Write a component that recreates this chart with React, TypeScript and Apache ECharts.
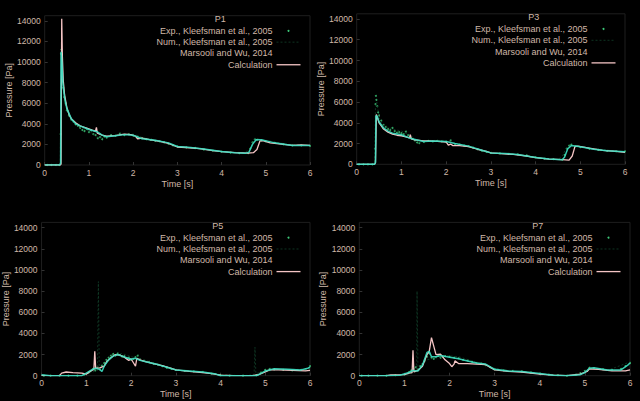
import React, { useEffect, useRef } from "react";
import * as echarts from "echarts";

const PANEL_TITLES = ["P1", "P3", "P5", "P7"];
const SERIES_NAMES = [
  "Exp., Kleefsman et al., 2005",
  "Num., Kleefsman et al., 2005",
  "Marsooli and Wu, 2014",
  "Calculation",
];
const X_TICKS = [0, 1, 2, 3, 4, 5, 6];

// ---- P1 ----
const EXP_P1 = [[0.05,0],[0.15,0],[0.25,0],[0.33,0],[0.36,3000],[0.37,10800],[0.38,11200],[0.39,9500],[0.4,8200],[0.42,7500],[0.44,6600],[0.47,6000],[0.5,5300],[0.55,4800],[0.6,4400],[0.65,4200],[0.7,3950],[0.75,3800],[0.8,3600],[0.85,3400],[0.9,3300],[0.95,3500],[1.0,3200],[1.05,3350],[1.1,3000],[1.15,2900],[1.2,2600],[1.25,2700],[1.3,2500],[1.35,2750],[1.4,2650],[1.5,2900],[1.6,2850],[1.7,3050],[1.8,2900],[1.9,3000],[2.0,2850],[2.1,2750],[2.2,2600],[2.3,2500],[2.4,2450],[2.5,2350],[2.6,2300],[2.7,2200],[2.8,2050],[2.9,1900],[3.0,1800],[3.2,1700],[3.4,1650],[3.6,1500],[3.8,1400],[4.0,1300],[4.2,1200],[4.4,1150],[4.6,1150],[4.65,1600],[4.7,2200],[4.75,2500],[4.8,2450],[4.9,2400],[5.0,2300],[5.2,2150],[5.4,2000],[5.6,1900],[5.8,1900],[6.0,1850]];
const NUM_P1 = [[0,0],[0.35,0],[0.37,9000],[0.4,8500],[0.45,6000],[0.6,4300],[0.8,3700],[1.0,3300],[1.2,2700],[1.4,2700],[1.7,3000],[2.0,3000],[2.2,2700],[2.6,2300],[3.0,1800],[3.5,1600],[4.0,1300],[4.5,1200],[4.65,1500],[4.75,2600],[5.0,2400],[5.5,2000],[6,1900]];
const MARS_P1 = [[0,0],[0.34,0],[0.36,200],[0.37,11000],[0.39,10000],[0.41,8000],[0.45,6500],[0.5,5500],[0.6,4500],[0.7,4000],[0.8,3800],[1.0,3450],[1.2,3200],[1.3,2900],[1.4,2750],[1.6,2850],[1.8,2950],[2.0,2900],[2.2,2550],[2.5,2400],[2.8,2150],[3.0,1800],[3.3,1700],[3.6,1550],[4.0,1300],[4.3,1200],[4.55,1150],[4.62,1250],[4.7,2000],[4.78,2450],[4.9,2450],[5.2,2150],[5.6,1900],[6,1900]];
const CALC_P1 = [[0,0],[0.35,0],[0.37,100],[0.385,14200],[0.4,10500],[0.42,8200],[0.45,6800],[0.5,5600],[0.55,4900],[0.6,4500],[0.7,4100],[0.8,3800],[0.9,3650],[1.0,3500],[1.1,3350],[1.15,3300],[1.17,3650],[1.19,3100],[1.3,2900],[1.4,2800],[1.6,2850],[1.8,3000],[1.95,2950],[2.05,2800],[2.1,2550],[2.2,2600],[2.4,2450],[2.6,2300],[2.8,2100],[3.0,1750],[3.2,1700],[3.5,1600],[3.8,1400],[4.0,1300],[4.3,1200],[4.6,1150],[4.72,1200],[4.8,1500],[4.87,2350],[4.95,2350],[5.1,2150],[5.3,2050],[5.6,1900],[5.8,1950],[6,1900]];

// ---- P3 ----
const EXP_P3 = [[0.05,0],[0.15,0],[0.25,0],[0.35,0],[0.41,1500],[0.42,5800],[0.43,6600],[0.44,6200],[0.46,5600],[0.48,5000],[0.5,4700],[0.55,4200],[0.6,3800],[0.65,3600],[0.7,3400],[0.75,3300],[0.8,3500],[0.85,3200],[0.9,3050],[0.95,3100],[1.0,3000],[1.05,2900],[1.1,3150],[1.15,2800],[1.2,2600],[1.25,2450],[1.3,2300],[1.35,2100],[1.4,2050],[1.5,2150],[1.6,2250],[1.7,2200],[1.8,2250],[1.9,2200],[2.0,2150],[2.1,2300],[2.2,1950],[2.3,1900],[2.4,1800],[2.5,1750],[2.6,1600],[2.7,1450],[2.8,1300],[2.9,1200],[3.0,1100],[3.2,1050],[3.4,1000],[3.6,950],[3.8,850],[4.0,700],[4.2,550],[4.4,500],[4.6,450],[4.65,900],[4.7,1500],[4.75,1800],[4.8,1900],[4.9,1750],[5.0,1650],[5.2,1500],[5.4,1400],[5.6,1300],[5.8,1250],[6.0,1250]];
const NUM_P3 = [[0,0],[0.4,0],[0.42,5500],[0.45,6000],[0.5,4500],[0.6,3700],[0.8,3400],[1.0,3200],[1.2,2800],[1.4,2100],[1.6,2300],[2.0,2300],[2.1,2100],[2.5,1700],[3.0,1100],[3.5,1000],[4.0,700],[4.5,450],[4.6,800],[4.7,1700],[4.9,1800],[5.3,1500],[6,1200]];
const MARS_P3 = [[0,0],[0.4,0],[0.42,200],[0.43,4700],[0.46,4600],[0.5,4100],[0.6,3500],[0.7,3200],[0.8,3000],[1.0,2850],[1.2,2500],[1.35,2350],[1.5,2200],[1.7,2250],[2.0,2200],[2.2,2000],[2.5,1750],[2.8,1350],[3.0,1100],[3.3,1050],[3.6,950],[4.0,650],[4.3,500],[4.6,450],[4.65,700],[4.72,1500],[4.8,1800],[5.0,1700],[5.3,1450],[5.6,1300],[6,1200]];
const CALC_P3 = [[0,0],[0.4,0],[0.42,150],[0.44,4800],[0.47,4400],[0.5,4000],[0.55,3700],[0.6,3400],[0.7,3100],[0.8,2900],[0.9,2800],[1.0,2750],[1.1,2650],[1.18,2550],[1.2,2850],[1.22,2450],[1.3,2350],[1.4,2300],[1.5,2250],[1.6,2250],[1.8,2200],[2.0,2150],[2.05,1850],[2.1,1950],[2.15,1800],[2.3,1800],[2.5,1700],[2.7,1450],[2.9,1250],[3.0,1100],[3.3,1000],[3.5,950],[3.8,800],[4.0,650],[4.3,500],[4.6,450],[4.75,400],[4.82,800],[4.88,1700],[4.95,1750],[5.2,1550],[5.5,1350],[5.8,1250],[6,1150]];

// ---- P5 ----
const EXP_P5 = [[0.05,0],[0.2,0],[0.4,0],[0.6,0],[0.8,0],[0.95,100],[1.05,300],[1.1,450],[1.15,650],[1.2,500],[1.25,800],[1.3,600],[1.35,950],[1.4,1200],[1.45,1500],[1.5,1700],[1.55,1900],[1.6,2050],[1.65,1900],[1.7,2100],[1.75,1950],[1.8,1800],[1.85,1850],[1.9,1650],[1.95,1700],[2.0,1500],[2.05,1600],[2.1,1750],[2.15,1900],[2.2,1550],[2.3,1400],[2.4,1300],[2.5,1150],[2.6,1050],[2.7,900],[2.8,750],[2.9,650],[3.0,550],[3.2,450],[3.4,400],[3.6,350],[3.8,200],[4.0,50],[4.2,0],[4.5,0],[4.8,50],[4.9,300],[5.0,550],[5.1,650],[5.2,600],[5.4,550],[5.6,500],[5.8,550],[5.9,600],[6.0,900]];
const NUM_P5 = [[0,0],[0.9,0],[1.1,300],[1.25,500],[1.27,8900],[1.29,600],[1.4,1000],[1.6,1900],[1.8,2100],[2.0,1800],[2.2,1600],[2.5,1200],[3.0,600],[3.5,400],[4.0,100],[4.5,0],[4.75,100],[4.77,2700],[4.79,200],[5.0,400],[5.3,600],[6,600]];
const MARS_P5 = [[0,100],[0.1,50],[0.2,0],[0.9,0],[1.0,250],[1.1,500],[1.2,700],[1.3,600],[1.35,400],[1.4,900],[1.5,1500],[1.6,1850],[1.7,2000],[1.8,1850],[1.9,1700],[2.0,1550],[2.1,1650],[2.2,1450],[2.4,1250],[2.6,1050],[2.8,800],[3.0,550],[3.3,450],[3.6,350],[3.9,150],[4.0,0],[4.5,0],[4.8,0],[4.9,200],[5.0,450],[5.2,650],[5.5,600],[5.8,550],[5.95,700],[6,800]];
const CALC_P5 = [[0,0],[0.4,0],[0.45,250],[0.55,350],[0.7,300],[0.9,250],[1.0,150],[1.1,450],[1.17,600],[1.19,2300],[1.21,700],[1.3,750],[1.4,900],[1.45,1300],[1.55,1700],[1.65,2000],[1.75,1950],[1.85,1750],[1.95,1450],[2.0,1600],[2.05,1250],[2.1,900],[2.13,1650],[2.2,1500],[2.3,1350],[2.5,1150],[2.7,950],[2.9,700],[3.0,550],[3.3,400],[3.6,300],[3.8,200],[4.0,50],[4.3,0],[4.7,0],[4.85,100],[5.0,350],[5.1,550],[5.3,550],[5.6,500],[5.9,450],[6,500]];

// ---- P7 ----
const EXP_P7 = [[0.05,0],[0.2,0],[0.4,0],[0.6,0],[0.8,50],[1.0,100],[1.1,350],[1.15,500],[1.2,650],[1.25,800],[1.3,600],[1.35,900],[1.4,1100],[1.45,1400],[1.5,1800],[1.55,2100],[1.6,1700],[1.65,1600],[1.7,1750],[1.75,1900],[1.8,1700],[1.85,1800],[1.9,1850],[2.0,1800],[2.1,1700],[2.2,1650],[2.3,1500],[2.4,1450],[2.5,1300],[2.6,1200],[2.7,1150],[2.8,1000],[2.9,800],[3.0,600],[3.2,500],[3.4,450],[3.6,400],[3.8,300],[4.0,200],[4.2,100],[4.4,50],[4.6,0],[4.8,100],[4.9,250],[5.0,450],[5.1,750],[5.2,700],[5.4,600],[5.6,550],[5.8,650],[5.9,900],[6.0,1200]];
const NUM_P7 = [[0,0],[1.0,0],[1.2,300],[1.27,400],[1.28,8000],[1.3,500],[1.5,1500],[1.7,1700],[1.9,1900],[2.2,1800],[2.5,1400],[3.0,700],[3.5,400],[4.0,200],[4.5,0],[4.9,100],[5.1,700],[5.5,500],[6,1300]];
const MARS_P7 = [[0,0],[0.6,0],[0.9,50],[1.1,300],[1.2,500],[1.3,450],[1.4,1000],[1.5,2200],[1.55,2300],[1.6,1800],[1.7,1800],[1.8,1900],[2.0,1750],[2.2,1600],[2.4,1400],[2.6,1200],[2.8,1100],[3.0,600],[3.3,450],[3.6,400],[4.0,200],[4.3,50],[4.6,0],[4.9,100],[5.0,300],[5.1,700],[5.2,750],[5.5,550],[5.8,550],[5.95,1000],[6,1200]];
const CALC_P7 = [[0,0],[0.6,0],[0.7,80],[1.0,100],[1.1,250],[1.17,300],[1.19,2400],[1.21,350],[1.3,500],[1.4,900],[1.5,2000],[1.55,2300],[1.6,3600],[1.65,2800],[1.7,2000],[1.8,2050],[1.9,1500],[2.0,1150],[2.05,850],[2.1,1100],[2.12,1400],[2.2,1150],[2.4,1150],[2.6,1100],[2.8,1050],[3.0,550],[3.3,400],[3.6,350],[4.0,150],[4.3,50],[4.6,0],[4.9,150],[5.05,400],[5.1,650],[5.3,600],[5.6,450],[5.9,450],[6,550]];

const PANEL_DATA = [
  [EXP_P1, NUM_P1, MARS_P1, CALC_P1],
  [EXP_P3, NUM_P3, MARS_P3, CALC_P3],
  [EXP_P5, NUM_P5, MARS_P5, CALC_P5],
  [EXP_P7, NUM_P7, MARS_P7, CALC_P7],
];

const Y_MAX = 14500;
const Y_INTERVAL = 2000;

const GRID_LAYOUT = [
  { left: 44.7, top: 15.7, width: 265.3, height: 149.3, yNameGap: 21 },
  { left: 356.7, top: 13.8, width: 268.3, height: 150.5, yNameGap: 20 },
  { left: 39.3, top: 222.4, width: 270.7, height: 153.3, yNameGap: 23 },
  { left: 359.3, top: 222.4, width: 270.7, height: 153.3, yNameGap: 23 },
];

const TEXT_COLOR = "#d0b8a8";
const EXP_COLOR = "#3cc878";
const NUM_COLOR = "#12402a";
const MARS_COLOR = "#3ee0c4";
const CALC_COLOR = "#f4c4c4";
const FONT = "Liberation Sans";

export default function App() {
  const ref = useRef<HTMLDivElement>(null);
  useEffect(() => {
    if (!ref.current) return;
    const chart = echarts.init(ref.current, undefined, { renderer: "svg" });

    const grids: any[] = [];
    const xAxes: any[] = [];
    const yAxes: any[] = [];
    const series: any[] = [];
    const graphics: any[] = [];

    GRID_LAYOUT.forEach((g, i) => {
      grids.push({
        left: g.left,
        top: g.top,
        width: g.width,
        height: g.height,
        show: true,
        borderColor: "#1e1e1e",
        borderWidth: 1,
        backgroundColor: "transparent",
      });
      xAxes.push({
        type: "value",
        gridIndex: i,
        min: X_TICKS[0],
        max: X_TICKS[X_TICKS.length - 1],
        interval: 1,
        name: "Time [s]",
        nameLocation: "middle",
        nameGap: 14,
        nameTextStyle: { color: TEXT_COLOR, fontFamily: FONT, fontSize: 9 },
        axisLine: { show: false },
        axisTick: { show: true, inside: true, length: 3, lineStyle: { color: "#333" } },
        axisLabel: { color: TEXT_COLOR, fontFamily: FONT, fontSize: 8.5, margin: 3, formatter: (v: number) => String(v) },
        splitLine: { show: false },
      });
      yAxes.push({
        type: "value",
        gridIndex: i,
        min: 0,
        max: Y_MAX,
        interval: Y_INTERVAL,
        name: "Pressure [Pa]",
        nameLocation: "middle",
        nameGap: g.yNameGap,
        nameTextStyle: { color: TEXT_COLOR, fontFamily: FONT, fontSize: 9 },
        axisLine: { show: false },
        axisTick: { show: true, inside: true, length: 3, lineStyle: { color: "#333" } },
        axisLabel: { color: TEXT_COLOR, fontFamily: FONT, fontSize: 8.5, margin: 4, showMaxLabel: false, formatter: (v: number) => String(v) },
        splitLine: { show: false },
      });

      const [exp, num, mars, calc] = PANEL_DATA[i];
      series.push({
        type: "scatter",
        name: SERIES_NAMES[0],
        xAxisIndex: i,
        yAxisIndex: i,
        data: exp,
        symbolSize: 2,
        itemStyle: { color: EXP_COLOR },
      });
      series.push({
        type: "line",
        name: SERIES_NAMES[1],
        xAxisIndex: i,
        yAxisIndex: i,
        data: num,
        symbol: "none",
        lineStyle: { color: NUM_COLOR, width: 0.8, type: [2, 2] },
      });
      series.push({
        type: "line",
        name: SERIES_NAMES[3],
        xAxisIndex: i,
        yAxisIndex: i,
        data: calc,
        symbol: "none",
        lineStyle: { color: CALC_COLOR, width: 1.3 },
      });
      series.push({
        type: "line",
        name: SERIES_NAMES[2],
        xAxisIndex: i,
        yAxisIndex: i,
        data: mars,
        symbol: "none",
        lineStyle: { color: MARS_COLOR, width: 1.5, opacity: 0.9 },
      });

      // legend block
      const y14000 = g.top + g.height * ((Y_MAX - 14000) / Y_MAX);
      const right = g.left + g.width - 37.5;
      const titleX = g.left + g.width / 2 + 43;
      graphics.push({
        type: "text",
        x: titleX,
        y: y14000 - 2,
        style: { text: PANEL_TITLES[i], fill: TEXT_COLOR, fontFamily: FONT, fontSize: 9, align: "center", verticalAlign: "middle" },
      });
      SERIES_NAMES.forEach((name, k) => {
        const ry = y14000 + 10 + 11.3 * k;
        graphics.push({
          type: "text",
          x: right,
          y: ry,
          style: { text: name, fill: TEXT_COLOR, fontFamily: FONT, fontSize: 9, align: "right", verticalAlign: "middle" },
        });
        if (k === 0) {
          graphics.push({ type: "circle", shape: { cx: right + 16, cy: ry, r: 1 }, style: { fill: EXP_COLOR } });
        } else if (k === 1) {
          graphics.push({ type: "line", shape: { x1: right + 4, y1: ry, x2: right + 28, y2: ry }, style: { stroke: NUM_COLOR, lineWidth: 0.8, lineDash: [2, 2] } });
        } else if (k === 3) {
          graphics.push({ type: "line", shape: { x1: right + 4, y1: ry, x2: right + 28, y2: ry }, style: { stroke: CALC_COLOR, lineWidth: 1.3 } });
        }
      });
    });

    chart.setOption({
      animation: false,
      backgroundColor: "#000000",
      grid: grids,
      xAxis: xAxes,
      yAxis: yAxes,
      series,
      graphic: graphics,
    });
    return () => chart.dispose();
  }, []);

  return (
    <div
      ref={ref}
      style={{ position: "fixed", left: 0, top: 0, width: 640, height: 401, background: "#000" }}
    />
  );
}
